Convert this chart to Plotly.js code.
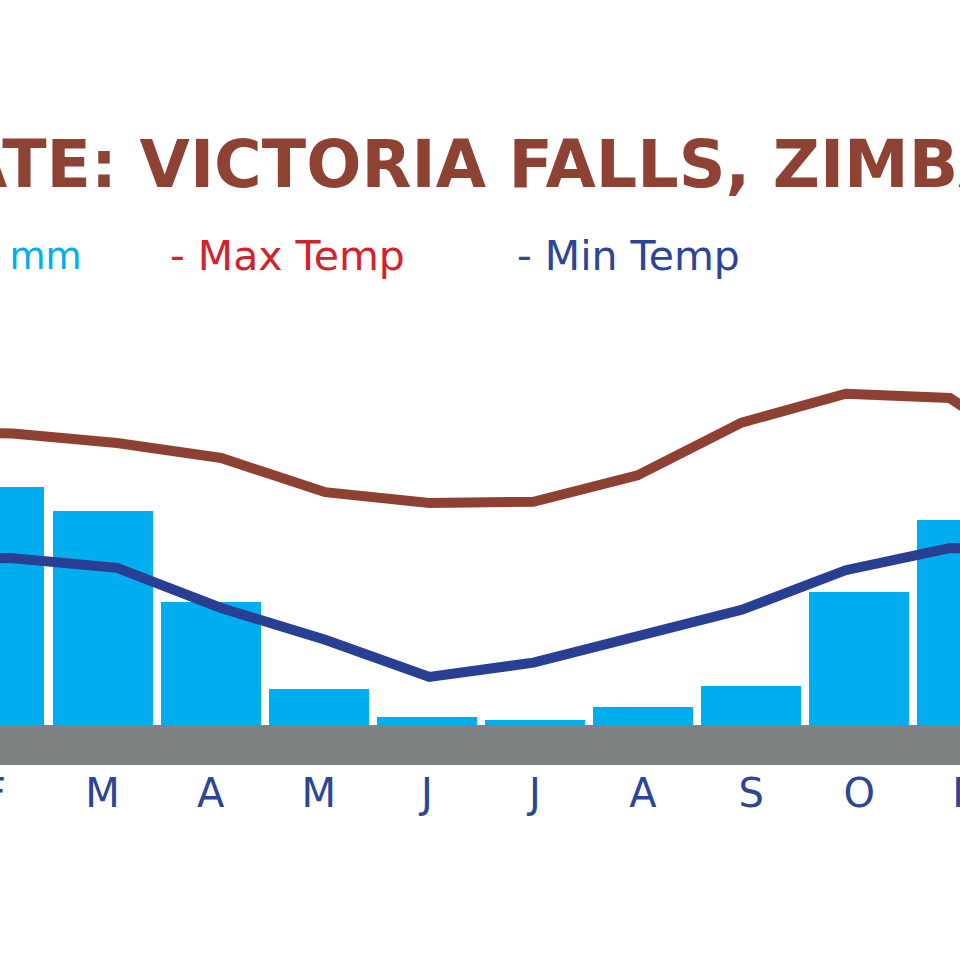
<!DOCTYPE html>
<html>
<head>
<meta charset="utf-8">
<script src="https://cdn.plot.ly/plotly-3.0.1.min.js"></script>
<style>
html,body{margin:0;padding:0;background:#fff;overflow:hidden;width:960px;height:960px;}
#chart{position:absolute;left:-120px;top:0;width:1200px;height:960px;}
</style>
</head>
<body>
<div id="chart"></div>
<script>
// ---- data ----
const monthNums = [1, 2, 3, 4, 5, 6, 7, 8, 9, 10, 11, 12];
const monthLabels = ['J', 'F', 'M', 'A', 'M', 'J', 'J', 'A', 'S', 'O', 'N', 'D'];
const rainfallMm = [170, 159, 143, 82, 24, 5.3, 3.3, 12, 26, 89, 137, 165];
const maxTempC = [29.4, 29.3, 28.5, 27.25, 24.4, 23.5, 23.6, 25.8, 30.2, 32.6, 32.25, 26.5];
const minTempC = [19.0, 18.9, 18.1, 14.75, 12.1, 9.0, 10.2, 12.3, 14.6, 17.9, 19.75, 19.6];
const titleText = 'CLIMATE: VICTORIA FALLS, ZIMBABWE';
const legendTexts = ['- Rainfall mm', '- Max Temp', '- Min Temp'];

// ---- styles ----
// The chart is wider than the 960px window and is shifted left by 120px, so the
// window shows a crop of it, as the reference does.
const W = 1200, H = 960, plotBottom = 765, shift = 120;
const rainColor = '#00AEEF', maxColor = '#8E4133', minColor = '#283F93';
const legendColors = ['#00AEEF', '#D2232A', '#2B4597'];
const px = v => (v + shift) / W;          // window px -> paper x
const py = v => (plotBottom - v) / plotBottom;

const traces = [
  {type: 'bar', x: monthNums, y: rainfallMm, width: 0.925,
   marker: {color: rainColor, line: {width: 0}}, xaxis: 'x', yaxis: 'y', hoverinfo: 'skip'},
  {type: 'scatter', mode: 'lines', x: monthNums, y: maxTempC,
   line: {color: maxColor, width: 10}, xaxis: 'x2', yaxis: 'y2', hoverinfo: 'skip'},
  {type: 'scatter', mode: 'lines', x: monthNums, y: minTempC,
   line: {color: minColor, width: 10}, xaxis: 'x2', yaxis: 'y2', hoverinfo: 'skip'}
];

const annotations = [
  {text: titleText, xref: 'paper', yref: 'paper', x: px(-223), y: py(164),
   xanchor: 'left', yanchor: 'middle', showarrow: false,
   font: {family: 'DejaVu Sans', size: 65, color: '#8E4234', weight: 'bold'}},
  {text: legendTexts[0], xref: 'paper', yref: 'paper', x: px(84), y: py(256),
   xanchor: 'right', yanchor: 'middle', showarrow: false,
   font: {family: 'DejaVu Sans', size: 37, color: legendColors[0]}},
  {text: legendTexts[1], xref: 'paper', yref: 'paper', x: px(168), y: py(256),
   xanchor: 'left', yanchor: 'middle', showarrow: false,
   font: {family: 'DejaVu Sans', size: 41, color: legendColors[1]}},
  {text: legendTexts[2], xref: 'paper', yref: 'paper', x: px(515), y: py(256),
   xanchor: 'left', yanchor: 'middle', showarrow: false,
   font: {family: 'DejaVu Sans', size: 41, color: legendColors[2]}}
];

const layout = {
  width: W, height: H,
  margin: {l: 0, r: 0, t: 0, b: H - plotBottom, pad: 0},
  paper_bgcolor: '#ffffff', plot_bgcolor: '#ffffff',
  showlegend: false,
  bargap: 0,
  xaxis: {range: [0.9417, 12.0426], tickvals: monthNums, ticktext: monthLabels,
          showgrid: false, zeroline: false, showline: false, ticks: '',
          ticklabelstandoff: 1,
          tickfont: {family: 'DejaVu Sans', size: 40, color: '#2B4597'}, fixedrange: true},
  xaxis2: {range: [0.7233, 12.2507], overlaying: 'x', visible: false, fixedrange: true},
  yaxis: {range: [-26.667, 483.333], visible: false, fixedrange: true},
  yaxis2: {range: [1.6667, 65.4167], overlaying: 'y', visible: false, fixedrange: true},
  shapes: [
    {type: 'rect', xref: 'paper', yref: 'y', x0: 0, x1: 1, y0: -26.667, y1: 0,
     fillcolor: '#7F8283', line: {width: 0}, layer: 'below'}
  ],
  annotations: annotations
};

Plotly.newPlot('chart', traces, layout, {staticPlot: true, displayModeBar: false});
</script>
</body>
</html>
